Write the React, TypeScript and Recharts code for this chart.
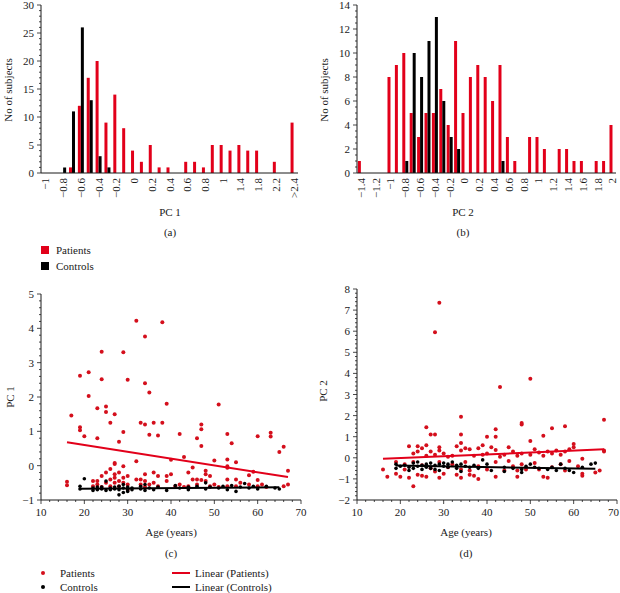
import React from 'react';
import { BarChart, Bar, XAxis, YAxis, ScatterChart, Scatter } from 'recharts';

const RED = '#e2001a';
const DOT_RED = '#d40f1c';
const INK = '#1a1a1a';
const FONT = '"Liberation Serif", "Times New Roman", serif';

// histogram bins, PC 1 (wider bins above 1)
const binsPC1 = [
  '-1', '-0.9', '-0.8', '-0.7', '-0.6', '-0.5', '-0.4', '-0.3', '-0.2', '-0.1',
  '0', '0.1', '0.2', '0.3', '0.4', '0.5', '0.6', '0.7', '0.8', '0.9',
  '1', '1.2', '1.4', '1.6', '1.8', '2', '2.2', '2.4', '>2.4',
];
const patientsHistPC1 = [0, 0, 0, 1, 12, 17, 20, 9, 14, 8, 4, 2, 5, 1, 1, 0, 2, 2, 1, 5, 5, 4, 5, 4, 4, 0, 2, 0, 9];
const controlsHistPC1 = [0, 0, 1, 11, 26, 13, 3, 1, 0, 0, 0, 0, 0, 0, 0, 0, 0, 0, 0, 0, 0, 0, 0, 0, 0, 0, 0, 0, 0];

// histogram bins, PC 2
const binsPC2 = [
  '-1.4', '-1.3', '-1.2', '-1.1', '-1', '-0.9', '-0.8', '-0.7', '-0.6', '-0.5', '-0.4', '-0.3',
  '-0.2', '-0.1', '0', '0.1', '0.2', '0.3', '0.4', '0.5', '0.6', '0.7', '0.8', '0.9',
  '1', '1.1', '1.2', '1.3', '1.4', '1.5', '1.6', '1.7', '1.8', '1.9', '2',
];
const patientsHistPC2 = [1, 0, 0, 0, 8, 9, 10, 5, 3, 5, 5, 7, 4, 11, 5, 8, 9, 8, 6, 9, 3, 1, 0, 3, 3, 2, 0, 2, 2, 1, 1, 0, 1, 1, 4];
const controlsHistPC2 = [0, 0, 0, 0, 0, 0, 1, 10, 8, 11, 13, 6, 3, 2, 0, 0, 0, 0, 0, 1, 0, 0, 0, 0, 0, 0, 0, 0, 0, 0, 0, 0, 0, 0, 0];

const yTicksHistPC1 = [0, 5, 10, 15, 20, 25, 30];
const yTicksHistPC2 = [0, 2, 4, 6, 8, 10, 12, 14];
const ageTicks = [10, 20, 30, 40, 50, 60, 70];
const yTicksPC1 = [-1, 0, 1, 2, 3, 4, 5];
const yTicksPC2 = [-2, -1, 0, 1, 2, 3, 4, 5, 6, 7, 8];

// [age, PC 1]
const patientsPC1: [number, number][] = [
  [32, 4.22], [38, 4.18], [34, 3.76], [24, 3.32], [29, 3.3], [19, 2.62], [21, 2.72], [24, 2.52], [30, 2.5], [34, 2.4],
  [35, 2.13], [21, 2.03], [39, 1.8], [51, 1.78], [17, 1.46], [23, 1.67], [25, 1.72], [25, 1.56], [27, 1.5], [26, 1.25],
  [19, 1.12], [19, 1.03], [20, 0.86], [23, 0.8], [29, 0.98], [28, 0.7], [33, 1.25], [34, 1.2], [36, 1.25], [38, 1.25],
  [35, 0.9], [37, 0.88], [42, 0.92], [46, 0.8], [47, 1.2], [47, 1.06], [47, 0.57], [53, 0.92], [54, 0.65], [60, 0.86],
  [63, 0.96], [63, 0.85], [65, 0.4], [66, 0.55], [67, -0.15], [67, -0.55], [32, 0.13], [40, 0.17], [43, 0.25], [50, 0.15],
  [53, 0.18], [53, -0.02], [53, -0.06], [55, 0.1], [45, -0.05],
  [16, -0.47], [16, -0.57], [22, -0.45], [22, -0.6], [23, -0.45], [23, -0.55], [24, -0.3], [24, -0.62], [25, -0.2], [25, -0.5],
  [26, -0.1], [26, -0.4], [26, -0.6], [27, 0.05], [27, 0.08], [27, -0.25], [27, -0.35], [27, -0.5], [28, -0.2], [28, -0.45],
  [28, -0.6], [29, -0.02], [29, -0.35], [29, -0.5], [30, -0.3], [30, -0.55], [30, -0.7], [32, -0.4], [33, -0.4], [33, -0.55],
  [34, -0.25], [34, -0.45], [34, -0.62], [35, -0.55], [36, -0.2], [36, -0.5], [37, -0.3], [37, -0.6], [39, -0.3], [39, -0.45],
  [40, -0.25], [41, -0.6], [42, -0.55], [43, -0.62], [44, -0.2], [44, -0.6], [45, -0.4], [46, -0.4], [46, -0.55], [47, -0.42],
  [48, -0.15], [48, -0.25], [48, -0.45], [49, -0.3], [49, -0.6], [50, -0.55], [51, -0.62], [53, -0.4], [53, -0.6], [55, -0.4],
  [55, -0.6], [56, -0.5], [58, -0.28], [58, -0.55], [59, -0.18], [60, -0.42], [60, -0.6], [61, -0.55], [62, -0.62], [66, -0.6],
];
const controlsPC1: [number, number][] = [
  [19, -0.6], [19, -0.68], [20, -0.38], [22, -0.72], [22, -0.65], [23, -0.62], [23, -0.7], [24, -0.68], [24, -0.62], [25, -0.72],
  [25, -0.45], [26, -0.65], [26, -0.7], [27, -0.62], [27, -0.68], [28, -0.85], [28, -0.7], [28, -0.6], [29, -0.78], [29, -0.65],
  [29, -0.55], [30, -0.7], [30, -0.62], [30, -0.75], [31, -0.65], [31, -0.7], [33, -0.68], [33, -0.6], [34, -0.72], [34, -0.55],
  [35, -0.65], [36, -0.7], [37, -0.62], [39, -0.72], [41, -0.58], [42, -0.65], [44, -0.7], [44, -0.62], [46, -0.6], [48, -0.5],
  [48, -0.68], [49, -0.62], [51, -0.65], [52, -0.6], [53, -0.7], [54, -0.58], [55, -0.75], [56, -0.62], [57, -0.52], [58, -0.65],
  [59, -0.6], [60, -0.68], [62, -0.6], [64, -0.65], [65, -0.68],
];
const trendPatientsPC1: [number, number][] = [[16, 0.68], [67, -0.33]];
const trendControlsPC1: [number, number][] = [[19, -0.67], [65, -0.63]];

// [age, PC 2]
const patientsPC2: [number, number][] = [
  [29, 7.35], [28, 5.95], [50, 3.75], [43, 3.35], [34, 1.95], [26, 1.45], [27, 1.1], [28, 1.1], [34, 1.1], [42, 1.35],
  [42, 1.0], [40, 1.0], [48, 1.65], [48, 1.58], [55, 1.4], [58, 1.5], [53, 1.05], [50, 0.8], [67, 1.8], [67, 0.35],
  [67, 0.3], [60, 0.65], [60, 0.5], [42, 0.37], [39, 0.6], [38, 0.45],
  [22, 0.55], [23, 0.2], [24, 0.55], [24, 0.3], [25, 0.45], [26, 0.6], [26, 0.1], [27, 0.3], [28, 0.15], [29, 0.5],
  [29, 0.35], [30, 0.2], [31, 0.05], [32, 0.1], [33, 0.55], [34, 0.7], [34, 0.35], [35, 0.45], [36, 0.4], [37, 0.1],
  [39, 0.15], [40, 0.2], [41, 0.5], [43, 0.05], [44, 0.15], [45, 0.5], [46, 0.3], [47, 0.1], [48, 0.2], [50, 0.15],
  [51, 0.4], [52, 0.25], [53, 0.1], [54, 0.3], [55, 0.2], [56, 0.35], [57, 0.15], [58, 0.3], [59, 0.4], [62, -0.05],
  [16, -0.55], [17, -0.9], [19, -0.2], [19, -0.75], [20, -0.9], [21, -0.3], [21, -0.55], [22, -0.95], [23, -1.35], [23, -0.2],
  [24, -0.8], [25, -0.85], [25, -0.35], [26, -0.9], [27, -0.5], [28, -0.65], [29, -0.95], [29, -0.2], [30, -0.75], [31, -0.45],
  [32, -0.3], [33, -0.8], [34, -0.95], [34, -0.55], [35, -0.2], [36, -0.8], [36, -0.6], [37, -0.85], [38, -1.0], [38, -0.4],
  [40, -0.55], [42, -0.9], [42, -0.2], [44, -0.6], [45, -0.15], [46, -0.4], [47, -0.9], [47, -0.6], [48, -0.3], [49, -0.55],
  [51, -0.25], [52, -0.55], [53, -0.9], [54, -0.95], [55, -0.45], [57, -0.3], [58, -0.6], [59, -0.15], [61, -0.4], [62, -0.75],
  [62, -0.85], [65, -0.7], [66, -0.6],
];
const controlsPC2: [number, number][] = [
  [19, -0.3], [19, -0.5], [20, -0.4], [21, -0.35], [22, -0.45], [22, -0.6], [23, -0.25], [23, -0.5], [24, -0.2], [24, -0.4],
  [25, -0.35], [25, -0.55], [26, -0.3], [26, -0.45], [27, -0.25], [27, -0.5], [28, -0.35], [28, -0.55], [29, -0.3], [29, -0.6],
  [30, -0.4], [30, -0.25], [31, -0.45], [31, -0.3], [32, -0.2], [33, -0.5], [33, -0.35], [34, -0.3], [34, -0.65], [35, -0.4],
  [36, -0.45], [37, -0.35], [38, -0.5], [39, -0.1], [40, -0.3], [41, -0.6], [44, -0.45], [44, -0.65], [46, -0.5], [48, -0.55],
  [48, -0.7], [49, -0.4], [50, -0.3], [51, -0.45], [52, -0.5], [54, -0.55], [55, -0.45], [56, -0.6], [57, -0.3], [58, -0.5],
  [59, -0.6], [60, -0.7], [62, -0.45], [64, -0.3], [65, -0.25],
];
const trendPatientsPC2: [number, number][] = [[16, -0.05], [67, 0.4]];
const trendControlsPC2: [number, number][] = [[19, -0.37], [65, -0.52]];

const fmt = (v: number | string) => String(v).replace('-', '\u2212');
const toPts = (a: [number, number][]) => a.map(([x, y]) => ({ x, y }));
const histRows = (bins: string[], p: number[], c: number[]) =>
  bins.map((bin, i) => ({ bin, patients: p[i], controls: c[i] }));

// major ticks plus evenly spaced minor ones in between
function withMinor(major: number[], parts: number) {
  const out: number[] = [];
  for (let i = 0; i < major.length - 1; i++) {
    const step = (major[i + 1] - major[i]) / parts;
    for (let k = 0; k < parts; k++) out.push(+(major[i] + k * step).toFixed(4));
  }
  out.push(major[major.length - 1]);
  return out;
}

const txt = { fontSize: 11, fontFamily: FONT, fill: INK };

function yTick(majors: number[]) {
  return ({ x, y, payload }: any) => {
    const major = majors.includes(payload.value);
    return (
      <g>
        <line x1={x - (major ? 4 : 2)} x2={x} y1={y} y2={y} stroke={INK} strokeWidth={0.8} />
        {major && (
          <text x={x - 7} y={y} textAnchor="end" dominantBaseline="central" {...txt}>
            {fmt(payload.value)}
          </text>
        )}
      </g>
    );
  };
}

function xTick(majors: number[], lastEnd = false) {
  return ({ x, y, payload }: any) => {
    const major = majors.includes(payload.value);
    const end = lastEnd && payload.value === majors[majors.length - 1];
    return (
      <g>
        <line x1={x} x2={x} y1={y} y2={y + (major ? 4 : 2)} stroke={INK} strokeWidth={0.8} />
        {major && (
          <text x={end ? x + 2 : x} y={y + 12} textAnchor={end ? 'end' : 'middle'} dominantBaseline="central" {...txt}>
            {payload.value}
          </text>
        )}
      </g>
    );
  };
}

function RotTick({ x, y, payload }: any) {
  return (
    <text transform={`translate(${x},${y + 1}) rotate(-90)`} textAnchor="end" dominantBaseline="central" {...txt}>
      {fmt(payload.value)}
    </text>
  );
}

function Txt({ x, y, children, rotate = false }: { x: number; y: number; children: React.ReactNode; rotate?: boolean }) {
  return (
    <div
      style={{
        position: 'absolute', left: x, top: y, fontSize: 11, color: INK, whiteSpace: 'nowrap', lineHeight: 1,
        transform: `translate(-50%, -50%)${rotate ? ' rotate(-90deg)' : ''}`,
      }}
    >
      {children}
    </div>
  );
}

function Histogram({ rows, majors, parts, yWidth, right, gap }: any) {
  const max = majors[majors.length - 1];
  return (
    <BarChart width={310} height={205} data={rows} margin={{ top: 5, right, left: 0, bottom: 0 }} barCategoryGap={gap} barGap={0}>
      <XAxis dataKey="bin" interval={1} tick={RotTick} tickLine={false} tickSize={0} tickMargin={4} height={32} axisLine={{ stroke: INK }} />
      <YAxis
        type="number" domain={[0, max]} ticks={withMinor(majors, parts)} interval={0} width={yWidth}
        tick={yTick(majors)} tickLine={false} tickSize={0} tickMargin={0} axisLine={{ stroke: INK }}
      />
      <Bar dataKey="patients" fill={RED} isAnimationActive={false} />
      <Bar dataKey="controls" fill="#000" isAnimationActive={false} />
    </BarChart>
  );
}

const dot = (fill: string, r: number) => (p: any) => <circle cx={p.cx} cy={p.cy} r={r} fill={fill} />;
const noDot = () => <g />;

function AgeScatter({ width, height, right, yWidth, yMajors, patients, controls, trendP, trendC, lastEnd }: any) {
  return (
    <ScatterChart width={width} height={height} margin={{ top: 9, right, left: 0, bottom: 0 }}>
      <XAxis
        type="number" dataKey="x" domain={[10, 70]} ticks={withMinor(ageTicks, 5)} interval={0} height={25}
        tick={xTick(ageTicks, lastEnd)} tickLine={false} tickSize={0} tickMargin={0} axisLine={{ stroke: INK }}
      />
      <YAxis
        type="number" dataKey="y" domain={[yMajors[0], yMajors[yMajors.length - 1]]} ticks={withMinor(yMajors, 5)}
        interval={0} width={yWidth} tick={yTick(yMajors)} tickLine={false} tickSize={0} tickMargin={0} axisLine={{ stroke: INK }}
      />
      <Scatter data={toPts(patients)} shape={dot(DOT_RED, 2)} isAnimationActive={false} />
      <Scatter data={toPts(controls)} shape={dot('#000', 1.8)} isAnimationActive={false} />
      <Scatter data={toPts(trendP)} line={{ stroke: RED, strokeWidth: 2 }} shape={noDot} isAnimationActive={false} />
      <Scatter data={toPts(trendC)} line={{ stroke: '#000', strokeWidth: 2 }} shape={noDot} isAnimationActive={false} />
    </ScatterChart>
  );
}

export default function App() {
  return (
    <div style={{ position: 'absolute', left: 0, top: 0, width: 620, height: 593, overflow: 'hidden', background: '#fff', fontFamily: FONT }}>
      <div style={{ position: 'absolute', left: 0, top: 0 }}>
        <Histogram rows={histRows(binsPC1, patientsHistPC1, controlsHistPC1)} majors={yTicksHistPC1} parts={5} yWidth={41} right={12} gap="16%" />
      </div>
      <div style={{ position: 'absolute', left: 310, top: 0 }}>
        <Histogram rows={histRows(binsPC2, patientsHistPC2, controlsHistPC2)} majors={yTicksHistPC2} parts={4} yWidth={47} right={4} gap="12%" />
      </div>
      <Txt x={8} y={90} rotate>No of subjects</Txt>
      <Txt x={324} y={90} rotate>No of subjects</Txt>
      <Txt x={170} y={212}>PC 1</Txt>
      <Txt x={170} y={232}>(a)</Txt>
      <Txt x={463} y={212}>PC 2</Txt>
      <Txt x={463} y={232}>(b)</Txt>

      {/* bar legend */}
      <div style={{ position: 'absolute', left: 41, top: 246, width: 8, height: 8, background: RED }} />
      <div style={{ position: 'absolute', left: 41, top: 262, width: 8, height: 8, background: '#000' }} />
      <div style={{ position: 'absolute', left: 56, top: 244, fontSize: 11, color: INK }}>Patients</div>
      <div style={{ position: 'absolute', left: 56, top: 260, fontSize: 11, color: INK }}>Controls</div>

      <div style={{ position: 'absolute', left: 0, top: 285 }}>
        <AgeScatter
          width={310} height={240} right={9} yWidth={41} yMajors={yTicksPC1}
          patients={patientsPC1} controls={controlsPC1} trendP={trendPatientsPC1} trendC={trendControlsPC1}
        />
      </div>
      <div style={{ position: 'absolute', left: 310, top: 280 }}>
        <AgeScatter
          width={320} height={245} right={13} yWidth={47} yMajors={yTicksPC2} lastEnd
          patients={patientsPC2} controls={controlsPC2} trendP={trendPatientsPC2} trendC={trendControlsPC2}
        />
      </div>
      <Txt x={10} y={397} rotate>PC 1</Txt>
      <Txt x={323} y={391} rotate>PC 2</Txt>
      <Txt x={171} y={532}>Age (years)</Txt>
      <Txt x={171} y={553}>(c)</Txt>
      <Txt x={466} y={532}>Age (years)</Txt>
      <Txt x={466} y={553}>(d)</Txt>

      {/* scatter legend */}
      <div style={{ position: 'absolute', left: 41, top: 571, width: 4, height: 4, borderRadius: 2, background: DOT_RED }} />
      <div style={{ position: 'absolute', left: 41, top: 585, width: 4, height: 4, borderRadius: 2, background: '#000' }} />
      <div style={{ position: 'absolute', left: 60, top: 567, fontSize: 11, color: INK }}>Patients</div>
      <div style={{ position: 'absolute', left: 60, top: 581, fontSize: 11, color: INK }}>Controls</div>
      <div style={{ position: 'absolute', left: 172, top: 572, width: 18, height: 2, background: RED }} />
      <div style={{ position: 'absolute', left: 172, top: 586, width: 18, height: 2, background: '#000' }} />
      <div style={{ position: 'absolute', left: 195, top: 567, fontSize: 11, color: INK }}>Linear (Patients)</div>
      <div style={{ position: 'absolute', left: 195, top: 581, fontSize: 11, color: INK }}>Linear (Controls)</div>
    </div>
  );
}
